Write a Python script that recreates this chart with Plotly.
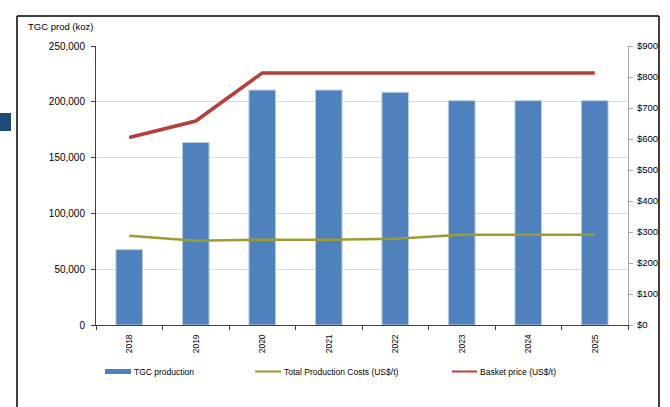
import plotly.graph_objects as go

years = ["2018", "2019", "2020", "2021", "2022", "2023", "2024", "2025"]
tgc_production = [67500, 163500, 210500, 210500, 208500, 201000, 201000, 201000]
total_costs = [288, 272, 275, 275, 278, 291, 291, 291]
basket_price = [605, 658, 813, 813, 813, 813, 813, 813]

W, H = 670, 407
L, R, T, B = 96, 628, 46, 325

def px(x):
    return (x - L) / (R - L)

def py(y):
    return (B - y) / (B - T)

FONT = "Liberation Sans, Arial, sans-serif"

fig = go.Figure()
fig.add_trace(go.Bar(
    x=years, y=tgc_production, name="TGC production",
    marker=dict(color="#4F81BD", line=dict(color="#B8CCE4", width=1)),
    width=0.4, showlegend=False,
))
fig.add_trace(go.Scatter(
    x=years, y=total_costs, name="Total Production Costs (US$/t)", yaxis="y2",
    mode="lines", line=dict(color="#9C9B34", width=2.5), showlegend=False,
))
fig.add_trace(go.Scatter(
    x=years, y=basket_price, name="Basket price (US$/t)", yaxis="y2",
    mode="lines", line=dict(color="#B5403B", width=3.5), showlegend=False,
))

fig.update_layout(
    width=W, height=H,
    margin=dict(l=L, r=W - R, t=T, b=H - B, autoexpand=False),
    paper_bgcolor="white", plot_bgcolor="white",
    font=dict(family=FONT, size=10, color="#000000"),
    xaxis=dict(
        type="category", showline=True, linecolor="#404040", linewidth=1,
        ticks="outside", ticklen=4, tickcolor="#404040", tickson="boundaries",
        tickangle=-90, tickfont=dict(size=8.5), showgrid=False,
        ticklabelstandoff=5, automargin=False,
    ),
    yaxis=dict(
        range=[0, 250000], dtick=50000, tickformat=",",
        showline=True, linecolor="#404040", linewidth=1,
        ticks="outside", ticklen=4, tickcolor="#404040",
        gridcolor="#D9D9D9", gridwidth=1, zeroline=False,
        tickfont=dict(size=10), ticklabelstandoff=4, automargin=False,
    ),
    yaxis2=dict(
        overlaying="y", side="right", range=[0, 900], dtick=100,
        tickprefix="$", showline=True, linecolor="#A6A6A6", linewidth=1,
        ticks="outside", ticklen=4, tickcolor="#A6A6A6",
        showgrid=False, zeroline=False, tickfont=dict(size=9.5),
        ticklabelstandoff=2, automargin=False,
    ),
    bargap=0.6,
)

shapes = []
frame = dict(type="line", xref="paper", yref="paper", line=dict(color="#000000", width=1.5))
shapes.append({**frame, "x0": px(17), "x1": px(17), "y0": py(16), "y1": py(410)})
shapes.append({**frame, "x0": px(17), "x1": px(659), "y0": py(16), "y1": py(16)})
shapes.append({**frame, "x0": px(659), "x1": px(659), "y0": py(16), "y1": py(410)})
shapes.append(dict(type="rect", xref="paper", yref="paper", x0=px(0), x1=px(11),
                   y0=py(131), y1=py(113), fillcolor="#1F4A7C", line=dict(width=0)))
shapes.append(dict(type="rect", xref="paper", yref="paper", x0=px(105), x1=px(131),
                   y0=py(374), y1=py(369), fillcolor="#4F81BD", line=dict(width=0)))
shapes.append(dict(type="line", xref="paper", yref="paper", x0=px(255), x1=px(281),
                   y0=py(371.5), y1=py(371.5), line=dict(color="#9C9B34", width=2)))
shapes.append(dict(type="line", xref="paper", yref="paper", x0=px(452), x1=px(477),
                   y0=py(371.5), y1=py(371.5), line=dict(color="#B5403B", width=2)))
fig.update_layout(shapes=shapes)

annotations = [
    dict(text="TGC prod (koz)", x=px(26), y=py(27), xanchor="left", yanchor="middle",
         font=dict(size=9.5)),
    dict(text="TGC production", x=px(132), y=py(371.5), xanchor="left", yanchor="middle",
         font=dict(size=8.5)),
    dict(text="Total Production Costs (US$/t)", x=px(282), y=py(371.5), xanchor="left",
         yanchor="middle", font=dict(size=8.5)),
    dict(text="Basket price (US$/t)", x=px(478), y=py(371.5), xanchor="left",
         yanchor="middle", font=dict(size=8.5)),
]
for a in annotations:
    a.update(xref="paper", yref="paper", showarrow=False)
fig.update_layout(annotations=annotations)

fig.write_html("out.html")
